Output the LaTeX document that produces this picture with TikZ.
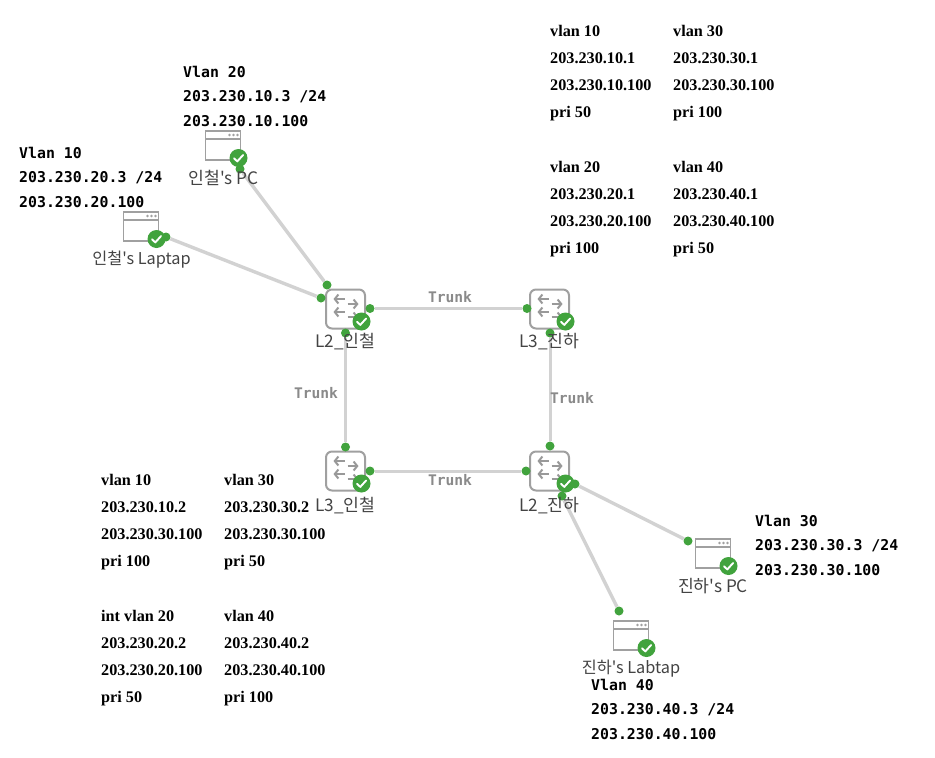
\documentclass[tikz,border=0pt]{standalone}
\usepackage{fontspec}
\usetikzlibrary{arrows.meta}
\setmainfont{Liberation Serif}
\newfontfamily\krfont{Noto Sans CJK KR}
\newfontfamily\monob[BoldFont=DejaVu Sans Mono Bold]{DejaVu Sans Mono}
\begin{document}
\begin{tikzpicture}[x=1pt,y=-1pt,
  port/.style={circle,fill=dotgreen,draw=none,minimum size=9pt,inner sep=0pt},
  link/.style={draw=linkgrey,line width=3pt},
  hostlink/.style={draw=linkgrey,line width=3.4pt},
  devlabel/.style={font=\krfont\fontsize{16.3}{18}\selectfont,text=labeltxt,inner sep=0pt,anchor=center},
  devlabelbig/.style={font=\krfont\fontsize{17.2}{18}\selectfont,text=labeltxt,inner sep=0pt,anchor=center},
  trunklabel/.style={font=\monob\bfseries\fontsize{14.6}{16}\selectfont,text=trunktxt,inner sep=1pt},
  cfgblock/.style={font=\bfseries\fontsize{16.2}{27}\selectfont,anchor=north west,inner sep=0pt,align=left},
  hostblock/.style={font=\monob\bfseries\fontsize{14.85}{24.5}\selectfont,anchor=north west,inner sep=0pt,align=left},
  okmark/.pic={
    \fill[dotgreen] (0,0) circle (9);
    \draw[white,line width=1.9pt,line cap=round,line join=round] (-4.5,0.3) -- (-1.2,3.4) -- (4.6,-3);
  },
  swicon/.pic={
    \draw[iconsw,line width=2pt,rounded corners=6pt,fill=white] (-19.5,-19.5) rectangle (19.5,19.5);
    \foreach \yy in {-10,3}{
      \draw[iconar,line width=2pt,-{Straight Barb[length=3.6pt,width=9pt]}] (-1,\yy) -- (-12,\yy);
      \draw[iconar,line width=2pt,-{Straight Barb[length=3.6pt,width=9pt]}] (2,\yy+5) -- (13,\yy+5);
    }
    \pic at (16,12.5) {okmark};
  },
  pcicon/.pic={
    \draw[iconsw,line width=1.6pt,fill=white] (-17.5,-14.5) rectangle (17.5,14.5);
    \draw[iconsw,line width=1.4pt] (-17.5,-6.5) -- (17.5,-6.5);
    \foreach \xx in {6.5,10.5,14.5}{\fill[iconsw] (\xx,-10.5) circle (1.4);}
    \pic at (15.5,12.5) {okmark};
  }
]
\definecolor{dotgreen}{HTML}{41A33D}
\definecolor{linkgrey}{HTML}{D2D2D2}
\definecolor{labeltxt}{HTML}{444444}
\definecolor{trunktxt}{HTML}{8A8A8A}
\definecolor{iconsw}{HTML}{A0A0A0}
\definecolor{iconar}{HTML}{999999}
\useasboundingbox (0,0) rectangle (935,758);
\fill[white] (0,0) rectangle (935,758);

% device icons
\pic at (345.5,309) {swicon};
\pic at (549.5,309) {swicon};
\pic at (345.5,471) {swicon};
\pic at (549.5,471) {swicon};
\pic at (223,145.5) {pcicon};
\pic at (141,226.5) {pcicon};
\pic at (713,553.5) {pcicon};
\pic at (631,635.5) {pcicon};

% ports
\node[port] (p1) at (240,169) {};
\node[port] (p2) at (327,285) {};
\node[port] (p3) at (166,237) {};
\node[port] (p4) at (321,298) {};
\node[port] (p5) at (370,308.5) {};
\node[port] (p6) at (527,308.5) {};
\node[port] (p7) at (345.5,333) {};
\node[port] (p8) at (345.5,447) {};
\node[port] (p9) at (550,333) {};
\node[port] (p10) at (550,446) {};
\node[port] (p11) at (370,471) {};
\node[port] (p12) at (526,471) {};
\node[port] (p13) at (575,484) {};
\node[port] (p14) at (688,541) {};
\node[port] (p15) at (562,496) {};
\node[port] (p16) at (619,611) {};

% connectors
\draw[hostlink] (p1) -- (p2);
\draw[hostlink] (p3) -- (p4);
\draw[link] (p5) -- (p6);
\draw[link] (p7) -- (p8);
\draw[link] (p9) -- (p10);
\draw[link] (p11) -- (p12);
\draw[hostlink] (p13) -- (p14);
\draw[hostlink] (p15) -- (p16);

% trunk labels
\node[trunklabel] (t1) at (450,297.5) {Trunk};
\node[trunklabel] (t2) at (316,393.5) {Trunk};
\node[trunklabel] (t3) at (572,398.5) {Trunk};
\node[trunklabel] (t4) at (450,480.5) {Trunk};

% device labels
\node[devlabelbig] (n1) at (345.5,341.5) {L2\_인철};
\node[devlabelbig] (n2) at (549.5,341.5) {L3\_진하};
\node[devlabelbig] (n3) at (345.5,505.5) {L3\_인철};
\node[devlabelbig] (n4) at (549.5,505.5) {L2\_진하};
\node[devlabelbig] (n5) at (223.5,178) {인철's PC};
\node[devlabel] (n6) at (141.5,260) {인철's Laptap};
\node[devlabelbig] (n7) at (713,586.5) {진하's PC};
\node[devlabel] (n8) at (631,669) {진하's Labtap};

% host config
\node[hostblock] (h1) at (183,66) {Vlan 20\\203.230.10.3 /24\\203.230.10.100};
\node[hostblock] (h2) at (19,147) {Vlan 10\\203.230.20.3 /24\\203.230.20.100};
\node[hostblock] (h3) at (755,515) {Vlan 30\\203.230.30.3 /24\\203.230.30.100};
\node[hostblock] (h4) at (591,679) {Vlan 40\\203.230.40.3 /24\\203.230.40.100};

% switch config
\node[cfgblock] (c1) at (550,25) {vlan 10\\203.230.10.1\\203.230.10.100\\pri 50};
\node[cfgblock] (c2) at (673,25) {vlan 30\\203.230.30.1\\203.230.30.100\\pri 100};
\node[cfgblock] (c3) at (550,161) {vlan 20\\203.230.20.1\\203.230.20.100\\pri 100};
\node[cfgblock] (c4) at (673,161) {vlan 40\\203.230.40.1\\203.230.40.100\\pri 50};
\node[cfgblock] (c5) at (101,474) {vlan 10\\203.230.10.2\\203.230.30.100\\pri 100};
\node[cfgblock] (c6) at (224,474) {vlan 30\\203.230.30.2\\203.230.30.100\\pri 50};
\node[cfgblock] (c7) at (101,610) {int vlan 20\\203.230.20.2\\203.230.20.100\\pri 50};
\node[cfgblock] (c8) at (224,610) {vlan 40\\203.230.40.2\\203.230.40.100\\pri 100};
\end{tikzpicture}
\end{document}
